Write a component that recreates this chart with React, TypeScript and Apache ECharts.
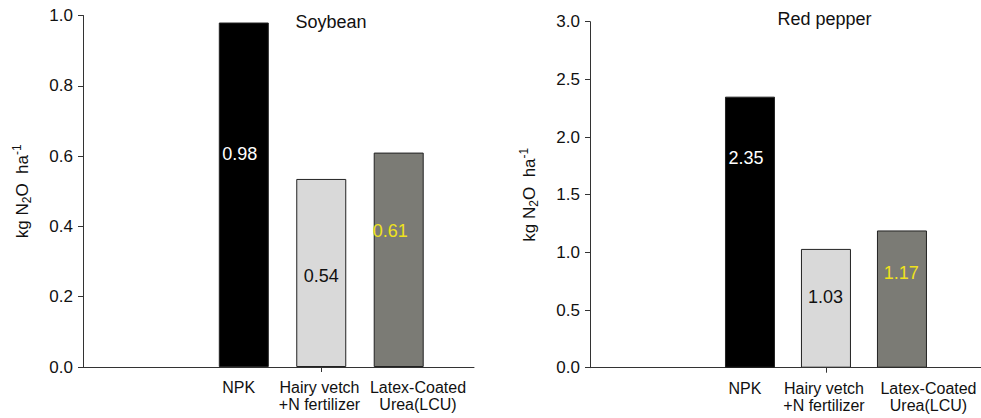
import React, { useEffect, useRef } from "react";
import * as echarts from "echarts";

// ---- Data ----
const categories = ["NPK", "Hairy vetch\n+N fertilizer", "Latex-Coated\nUrea(LCU)"];
const categoryPositions = [1, 2, 3];
const soybeanValues = [0.98, 0.535, 0.61];
const soybeanLabels = ["0.98", "0.54", "0.61"];
const pepperValues = [2.35, 1.03, 1.19];
const pepperLabels = ["2.35", "1.03", "1.17"];
const titles = ["Soybean", "Red pepper"];

// ---- Styles / layout ----
const FONT = "'Liberation Sans', Arial, Helvetica, sans-serif";
const barColors = ["#000000", "#d9d9d9", "#7b7b75"];
const labelColors = ["#ffffff", "#111111", "#efe21c"];
const soyLabelOffsets = [[-4, -41], [0, 3.5], [-8.5, -28.5]];
const pepperLabelOffsets = [[-4, -74.5], [-0.5, -11.5], [-0.7, -26.3]];
// where the category texts sit along each x axis (in axis units)
const soyCatLabelPos = [0.934, 1.977, 3.249];
const pepperCatLabelPos = [0.934, 1.974, 3.349];

function makeSeries(values: number[], labels: string[], offsets: number[][], idx: number) {
  return {
    type: "bar",
    xAxisIndex: idx,
    yAxisIndex: idx,
    barWidth: 50,
    data: values.map((v, i) => ({
      value: [categoryPositions[i], v],
      itemStyle: { color: barColors[i], borderColor: "#222", borderWidth: 1 },
      label: {
        show: true,
        position: "inside",
        offset: offsets[i],
        formatter: labels[i],
        color: labelColors[i],
        fontSize: 18,
        fontFamily: FONT,
      },
    })),
  };
}

const lineStyle = { color: "#333", width: 1 };

function makeYAxis(idx: number, max: number, interval: number) {
  return {
    type: "value",
    gridIndex: idx,
    min: 0,
    max,
    interval,
    axisLine: { show: true, onZero: false, lineStyle },
    axisTick: { show: true, length: 5, inside: false, lineStyle },
    splitLine: { show: false },
    axisLabel: {
      margin: 10,
      fontSize: 17,
      color: "#111",
      fontFamily: FONT,
      formatter: (v: number) => v.toFixed(1),
    },
    name: "{n|kg N}{s|2}{n|O  ha}{p|-1}",
    nameLocation: "middle",
    nameRotate: 90,
    nameGap: 50,
    nameTextStyle: {
      fontFamily: FONT,
      color: "#111",
      fontSize: 17,
      rich: {
        n: { fontSize: 17, lineHeight: 22, fontFamily: FONT, color: "#111" },
        s: { fontSize: 12, lineHeight: 12, verticalAlign: "bottom", fontFamily: FONT, color: "#111" },
        p: { fontSize: 12, lineHeight: 12, verticalAlign: "top", fontFamily: FONT, color: "#111" },
      },
    },
  };
}

function makeXAxis(idx: number, min: number, max: number, labelPos: number[]) {
  return {
    type: "value",
    gridIndex: idx,
    min,
    max,
    axisLine: { show: true, onZero: false, lineStyle },
    axisTick: { show: true, length: 5, inside: false, customValues: [categoryPositions[1]], lineStyle },
    splitLine: { show: false },
    axisLabel: {
      show: true,
      customValues: labelPos,
      hideOverlap: false,
      showMinLabel: true,
      showMaxLabel: true,
      margin: 12,
      fontSize: 16,
      lineHeight: 17,
      color: "#111",
      fontFamily: FONT,
      formatter: (v: number) => {
        let best = 0;
        for (let i = 1; i < labelPos.length; i++) {
          if (Math.abs(labelPos[i] - v) < Math.abs(labelPos[best] - v)) best = i;
        }
        return categories[best];
      },
    },
  };
}

export default function App() {
  const ref = useRef<HTMLDivElement>(null);
  useEffect(() => {
    if (!ref.current) return;
    const chart = echarts.init(ref.current, undefined, { renderer: "svg" });
    chart.setOption({
      animation: false,
      backgroundColor: "#ffffff",
      grid: [
        { left: 83, top: 15.5, width: 391, height: 351.5 },
        { left: 590, top: 21.7, width: 391, height: 346 },
      ],
      xAxis: [
        makeXAxis(0, -1.076, 3.972, soyCatLabelPos),
        makeXAxis(1, -1.105, 4.04, pepperCatLabelPos),
      ],
      yAxis: [makeYAxis(0, 1.0, 0.2), makeYAxis(1, 3.0, 0.5)],
      graphic: [
        {
          type: "text",
          x: 331,
          y: 21.5,
          style: { text: titles[0], fontSize: 18, fontFamily: FONT, fill: "#111", align: "center", verticalAlign: "middle" },
        },
        {
          type: "text",
          x: 824.5,
          y: 19,
          style: { text: titles[1], fontSize: 18, fontFamily: FONT, fill: "#111", align: "center", verticalAlign: "middle" },
        },
      ],
      series: [
        makeSeries(soybeanValues, soybeanLabels, soyLabelOffsets, 0),
        makeSeries(pepperValues, pepperLabels, pepperLabelOffsets, 1),
      ],
    });
    return () => chart.dispose();
  }, []);
  return (
    <div
      ref={ref}
      style={{ position: "absolute", left: 0, top: 0, width: 981, height: 418 }}
    />
  );
}
